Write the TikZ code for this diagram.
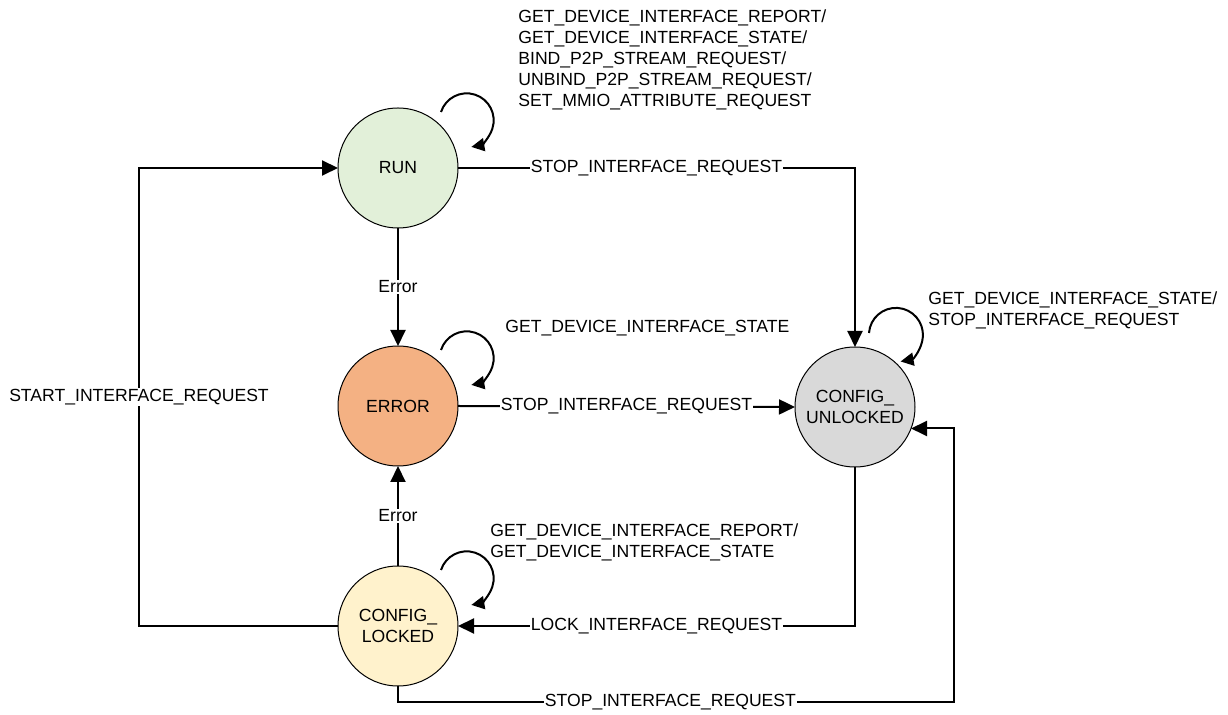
\documentclass[tikz,border=0pt]{standalone}
\usepackage{fontspec}
\setmainfont{Liberation Sans}
\usetikzlibrary{arrows.meta, calc}
\definecolor{runfill}{RGB}{226, 240, 217}
\definecolor{errfill}{RGB}{244, 177, 131}
\definecolor{lockfill}{RGB}{255, 242, 204}
\definecolor{unlockfill}{RGB}{217, 217, 217}
\newcommand{\diagfont}{\fontsize{8.8}{10.5}\selectfont}

\begin{document}
\begin{tikzpicture}[
  x=0.5pt, y=-0.5pt,
  state/.style={circle, draw, line width=0.5pt, minimum size=60pt,
                inner sep=0pt, outer sep=0pt, align=center, font=\diagfont},
  lbl/.style={fill=white, inner sep=0.6pt, font=\diagfont},
  note/.style={anchor=west, inner sep=0pt, align=left, font=\diagfont},
  arr/.style={-{Triangle[length=8pt, width=7.5pt]}, line width=1pt},
  looparr/.style={-{Triangle[length=6.5pt, width=6.5pt]}, line width=1pt}
]
  \useasboundingbox (0,0) rectangle (1228,715);

  \node[state, fill=runfill]    (run)      at (398, 168) {RUN};
  \node[state, fill=errfill]    (err)      at (398, 406) {ERROR};
  \node[state, fill=lockfill]   (locked)   at (398, 626) {CONFIG\_\\LOCKED};
  \node[state, fill=unlockfill] (unlocked) at (855, 407) {CONFIG\_\\UNLOCKED};

  % self loops
  \draw[looparr] ([shift={(43,-56)}]run.center) arc[start angle=198, end angle=440, radius=27];
  \draw[looparr] ([shift={(43,-56)}]err.center) arc[start angle=198, end angle=440, radius=27];
  \draw[looparr] ([shift={(43,-56)}]locked.center) arc[start angle=198, end angle=440, radius=27];
  \draw[looparr] ([shift={(14,-74)}]unlocked.center) arc[start angle=184, end angle=440, radius=27];

  \node[note] (runnote) at ([shift={(120,-108)}]run.center)
    {GET\_DEVICE\_INTERFACE\_REPORT/\\GET\_DEVICE\_INTERFACE\_STATE/\\BIND\_P2P\_STREAM\_REQUEST/\\UNBIND\_P2P\_STREAM\_REQUEST/\\SET\_MMIO\_ATTRIBUTE\_REQUEST};
  \node[note] (errnote) at ([shift={(107,-78)}]err.center)
    {GET\_DEVICE\_INTERFACE\_STATE};
  \node[note] (locknote) at ([shift={(92,-84)}]locked.center)
    {GET\_DEVICE\_INTERFACE\_REPORT/\\GET\_DEVICE\_INTERFACE\_STATE};
  \node[note] (unlocknote) at ([shift={(73,-97)}]unlocked.center)
    {GET\_DEVICE\_INTERFACE\_STATE/\\STOP\_INTERFACE\_REQUEST};

  % transitions
  \draw[arr] (run) -- (err) node[midway, lbl] {Error};
  \draw[arr] (locked) -- (err) node[midway, lbl] {Error};
  \draw[arr] (run.east) -| (unlocked.north)
    node[pos=0.25, lbl] {STOP\_INTERFACE\_REQUEST};
  \draw[arr] (err.east) -- (unlocked.west)
    node[midway, lbl] {STOP\_INTERFACE\_REQUEST};
  \draw[arr] (unlocked.south) |- (locked.east)
    node[pos=0.75, lbl] {LOCK\_INTERFACE\_REQUEST};
  \draw[arr] (locked.west) -- ++(-199,0) |- (run.west)
    node[pos=0.25, lbl] {START\_INTERFACE\_REQUEST};

  \coordinate (ret) at ($(unlocked.-21)+(43,0)$);
  \draw[arr] (locked.south) -- ++(0,16) -| (ret)
    node[pos=0.245, lbl] {STOP\_INTERFACE\_REQUEST} -- (unlocked.-21);
\end{tikzpicture}
\end{document}
